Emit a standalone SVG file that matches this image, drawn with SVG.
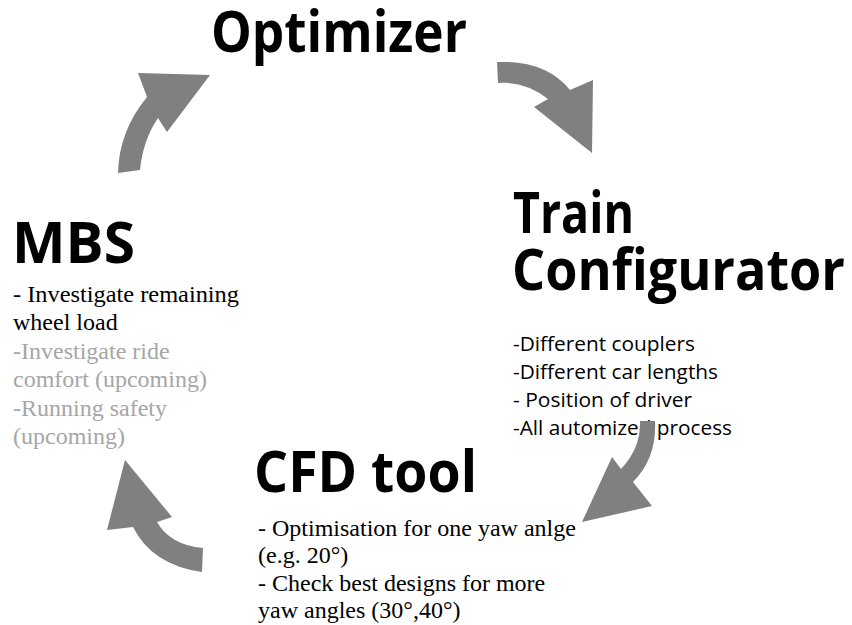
<svg xmlns="http://www.w3.org/2000/svg" width="852" height="625" viewBox="0 0 852 625">
<style>
.title{font-family:"Open Sans","Liberation Sans",sans-serif;font-weight:bold;font-size:57px;fill:#000}
.cal{font-family:"Open Sans","Liberation Sans",sans-serif;font-size:20px;fill:#000}
.tnr{font-family:"Liberation Serif","Times New Roman",serif;font-size:24px;fill:#000}
.grey{fill:#a6a6a6}
.arrow{fill:#808080;stroke:none}
</style>
<rect width="852" height="625" fill="#fff"/>
<g id="optimizer">
<text class="title" x="211" y="52" textLength="256" lengthAdjust="spacingAndGlyphs">Optimizer</text>
</g>
<g id="train-configurator">
<text class="title" x="513" y="233" textLength="121" lengthAdjust="spacingAndGlyphs">Train</text>
<text class="title" x="512" y="290" textLength="333" lengthAdjust="spacingAndGlyphs">Configurator</text>
<text class="cal" x="513" y="351" textLength="182" lengthAdjust="spacingAndGlyphs">-Different couplers</text>
<text class="cal" x="513" y="379" textLength="205" lengthAdjust="spacingAndGlyphs">-Different car lengths</text>
<text class="cal" x="513" y="407" textLength="179" lengthAdjust="spacingAndGlyphs">- Position of driver</text>
<text class="cal" x="513" y="435" textLength="219" lengthAdjust="spacingAndGlyphs">-All automized process</text>
</g>
<g id="mbs">
<text class="title" x="12" y="263" textLength="123" lengthAdjust="spacingAndGlyphs">MBS</text>
<text class="tnr" x="13" y="302" textLength="226" lengthAdjust="spacingAndGlyphs">- Investigate remaining</text>
<text class="tnr" x="13" y="330">wheel load</text>
<text class="tnr grey" x="13" y="359">-Investigate ride</text>
<text class="tnr grey" x="13" y="387">comfort (upcoming)</text>
<text class="tnr grey" x="13" y="416">-Running safety</text>
<text class="tnr grey" x="13" y="444">(upcoming)</text>
</g>
<g id="cfd-tool">
<text class="title" x="254" y="492" textLength="223" lengthAdjust="spacingAndGlyphs">CFD tool</text>
<text class="tnr" x="258" y="536">- Optimisation for one yaw anlge</text>
<text class="tnr" x="258" y="563">(e.g. 20°)</text>
<text class="tnr" x="258" y="591">- Check best designs for more</text>
<text class="tnr" x="258" y="618">yaw angles (30°,40°)</text>
</g>
<g id="connectors">
<path class="arrow" d="M497,62 Q546,60 570,90 L593,80 L592,153 L534,107 L548,99 Q525,81 498,83 Z"/>
<path class="arrow" d="M640,421 L655,421 Q657,458 633,482 L652,506 L582,522 L612,457 L621,469 Q641,448 640,421 Z"/>
<path class="arrow" d="M203,548 Q170,545 157,522 L172,517 L125,460 L107,530 L133,527 Q152,565 202,572 Z"/>
<path class="arrow" d="M118,173 Q119,131 147,97 L138,73 L210,75 L167,132 L158,118 Q143,140 140,170 Z"/>
</g>
</svg>
